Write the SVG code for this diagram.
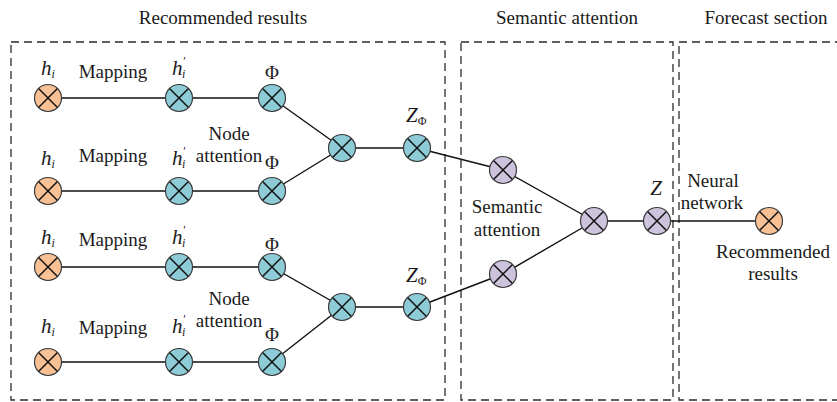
<svg xmlns="http://www.w3.org/2000/svg" width="837" height="402" viewBox="0 0 837 402">
<defs>
<style>
.box{fill:none;stroke:#2b2b2b;stroke-width:1.3;stroke-dasharray:8 5}
.ln{stroke:#111;stroke-width:1.4;fill:none}
.t{font-family:'Liberation Serif','DejaVu Serif','Times New Roman',serif;font-size:19px;fill:#1a1a1a}
.it{font-style:italic;font-size:21px}
.sub{font-size:12px}
.c{stroke:#3a3a3a;stroke-width:1.2}
.x{stroke:#111;stroke-width:1.5}
.or{fill:#F7C195}
.cy{fill:#8DCBD6}
.pu{fill:#CDC3DC}
</style>
<g id="xmark"><line class="x" x1="-9.2" y1="-9.2" x2="9.2" y2="9.2"/><line class="x" x1="-9.2" y1="9.2" x2="9.2" y2="-9.2"/></g>
</defs>
<rect width="837" height="402" fill="#fff"/>
<g id="regions">
<rect class="box" x="11" y="42" width="434" height="358"/>
<rect class="box" x="461" y="42" width="212" height="358"/>
<rect class="box" x="679" y="42" width="220" height="358"/>
<text class="t" x="223" y="24" text-anchor="middle">Recommended results</text>
<text class="t" x="567" y="24" text-anchor="middle">Semantic attention</text>
<text class="t" x="766" y="24" text-anchor="middle">Forecast section</text>
</g>
<g id="connectors">
<line class="ln" x1="48" y1="98" x2="272" y2="98"/>
<line class="ln" x1="48" y1="191" x2="272" y2="191"/>
<line class="ln" x1="48" y1="267" x2="272" y2="267"/>
<line class="ln" x1="48" y1="362" x2="272" y2="362"/>
<line class="ln" x1="272" y1="98" x2="342" y2="148"/>
<line class="ln" x1="272" y1="191" x2="342" y2="148"/>
<line class="ln" x1="342" y1="148" x2="417" y2="148"/>
<line class="ln" x1="417" y1="148" x2="503" y2="170"/>
<line class="ln" x1="272" y1="267" x2="342" y2="307"/>
<line class="ln" x1="272" y1="362" x2="342" y2="307"/>
<line class="ln" x1="342" y1="307" x2="417" y2="307"/>
<line class="ln" x1="417" y1="307" x2="503" y2="274"/>
<line class="ln" x1="503" y1="170" x2="594" y2="221"/>
<line class="ln" x1="503" y1="274" x2="594" y2="221"/>
<line class="ln" x1="594" y1="221" x2="769" y2="221"/>
</g>
<g id="row1">
<g id="h1"><circle class="c or" cx="48" cy="98" r="13.5"/><use href="#xmark" x="48" y="98"/></g>
<g id="hp1"><circle class="c cy" cx="179" cy="98" r="13.5"/><use href="#xmark" x="179" y="98"/></g>
<g id="phi1"><circle class="c cy" cx="272" cy="98" r="13.5"/><use href="#xmark" x="272" y="98"/></g>
</g>
<g id="row2">
<g id="h2"><circle class="c or" cx="48" cy="191" r="13.5"/><use href="#xmark" x="48" y="191"/></g>
<g id="hp2"><circle class="c cy" cx="179" cy="191" r="13.5"/><use href="#xmark" x="179" y="191"/></g>
<g id="phi2"><circle class="c cy" cx="272" cy="191" r="13.5"/><use href="#xmark" x="272" y="191"/></g>
</g>
<g id="row3">
<g id="h3"><circle class="c or" cx="48" cy="267" r="13.5"/><use href="#xmark" x="48" y="267"/></g>
<g id="hp3"><circle class="c cy" cx="179" cy="267" r="13.5"/><use href="#xmark" x="179" y="267"/></g>
<g id="phi3"><circle class="c cy" cx="272" cy="267" r="13.5"/><use href="#xmark" x="272" y="267"/></g>
</g>
<g id="row4">
<g id="h4"><circle class="c or" cx="48" cy="362" r="13.5"/><use href="#xmark" x="48" y="362"/></g>
<g id="hp4"><circle class="c cy" cx="179" cy="362" r="13.5"/><use href="#xmark" x="179" y="362"/></g>
<g id="phi4"><circle class="c cy" cx="272" cy="362" r="13.5"/><use href="#xmark" x="272" y="362"/></g>
</g>
<g id="merge1"><circle class="c cy" cx="342" cy="148" r="13.5"/><use href="#xmark" x="342" y="148"/></g>
<g id="zphi1"><circle class="c cy" cx="417" cy="148" r="13.5"/><use href="#xmark" x="417" y="148"/></g>
<g id="merge2"><circle class="c cy" cx="342" cy="307" r="13.5"/><use href="#xmark" x="342" y="307"/></g>
<g id="zphi2"><circle class="c cy" cx="417" cy="307" r="13.5"/><use href="#xmark" x="417" y="307"/></g>
<g id="sem1"><circle class="c pu" cx="503" cy="170" r="13.5"/><use href="#xmark" x="503" y="170"/></g>
<g id="sem2"><circle class="c pu" cx="503" cy="274" r="13.5"/><use href="#xmark" x="503" y="274"/></g>
<g id="semmerge"><circle class="c pu" cx="594" cy="221" r="13.5"/><use href="#xmark" x="594" y="221"/></g>
<g id="z"><circle class="c pu" cx="657" cy="221" r="13.5"/><use href="#xmark" x="657" y="221"/></g>
<g id="out"><circle class="c or" cx="769" cy="221" r="13.5"/><use href="#xmark" x="769" y="221"/></g>
<g id="labels">
<text class="t it" x="41" y="75">h<tspan class="sub" dy="3">i</tspan></text>
<text class="t it" x="41" y="165">h<tspan class="sub" dy="3">i</tspan></text>
<text class="t it" x="41" y="244">h<tspan class="sub" dy="3">i</tspan></text>
<text class="t it" x="41" y="333">h<tspan class="sub" dy="3">i</tspan></text>
<text class="t" x="113" y="78" text-anchor="middle">Mapping</text>
<text class="t" x="113" y="162" text-anchor="middle">Mapping</text>
<text class="t" x="113" y="246" text-anchor="middle">Mapping</text>
<text class="t" x="113" y="334" text-anchor="middle">Mapping</text>
<text class="t it" x="172" y="75">h<tspan class="sub" dy="-10">'</tspan><tspan class="sub" dx="-3" dy="13">i</tspan></text>
<text class="t it" x="172" y="165">h<tspan class="sub" dy="-10">'</tspan><tspan class="sub" dx="-3" dy="13">i</tspan></text>
<text class="t it" x="172" y="244">h<tspan class="sub" dy="-10">'</tspan><tspan class="sub" dx="-3" dy="13">i</tspan></text>
<text class="t it" x="172" y="333">h<tspan class="sub" dy="-10">'</tspan><tspan class="sub" dx="-3" dy="13">i</tspan></text>
<text class="t" x="272" y="79" text-anchor="middle">Φ</text>
<text class="t" x="272" y="169" text-anchor="middle">Φ</text>
<text class="t" x="272" y="251" text-anchor="middle">Φ</text>
<text class="t" x="272" y="341" text-anchor="middle">Φ</text>
<text class="t" x="229" y="140" text-anchor="middle">Node</text>
<text class="t" x="229" y="162" text-anchor="middle">attention</text>
<text class="t" x="229" y="305" text-anchor="middle">Node</text>
<text class="t" x="229" y="327" text-anchor="middle">attention</text>
<text class="t it" x="406" y="122">Z<tspan class="sub" font-style="normal" style="font-style:normal" dy="3">Φ</tspan></text>
<text class="t it" x="406" y="282">Z<tspan class="sub" font-style="normal" style="font-style:normal" dy="3">Φ</tspan></text>
<text class="t" x="507" y="213" text-anchor="middle">Semantic</text>
<text class="t" x="507" y="236" text-anchor="middle">attention</text>
<text class="t it" x="656" y="195" text-anchor="middle">Z</text>
<text class="t" x="713" y="187" text-anchor="middle">Neural</text>
<text class="t" x="712" y="209" text-anchor="middle">network</text>
<text class="t" x="773" y="258" text-anchor="middle">Recommended</text>
<text class="t" x="773" y="280" text-anchor="middle">results</text>
</g>
</svg>
